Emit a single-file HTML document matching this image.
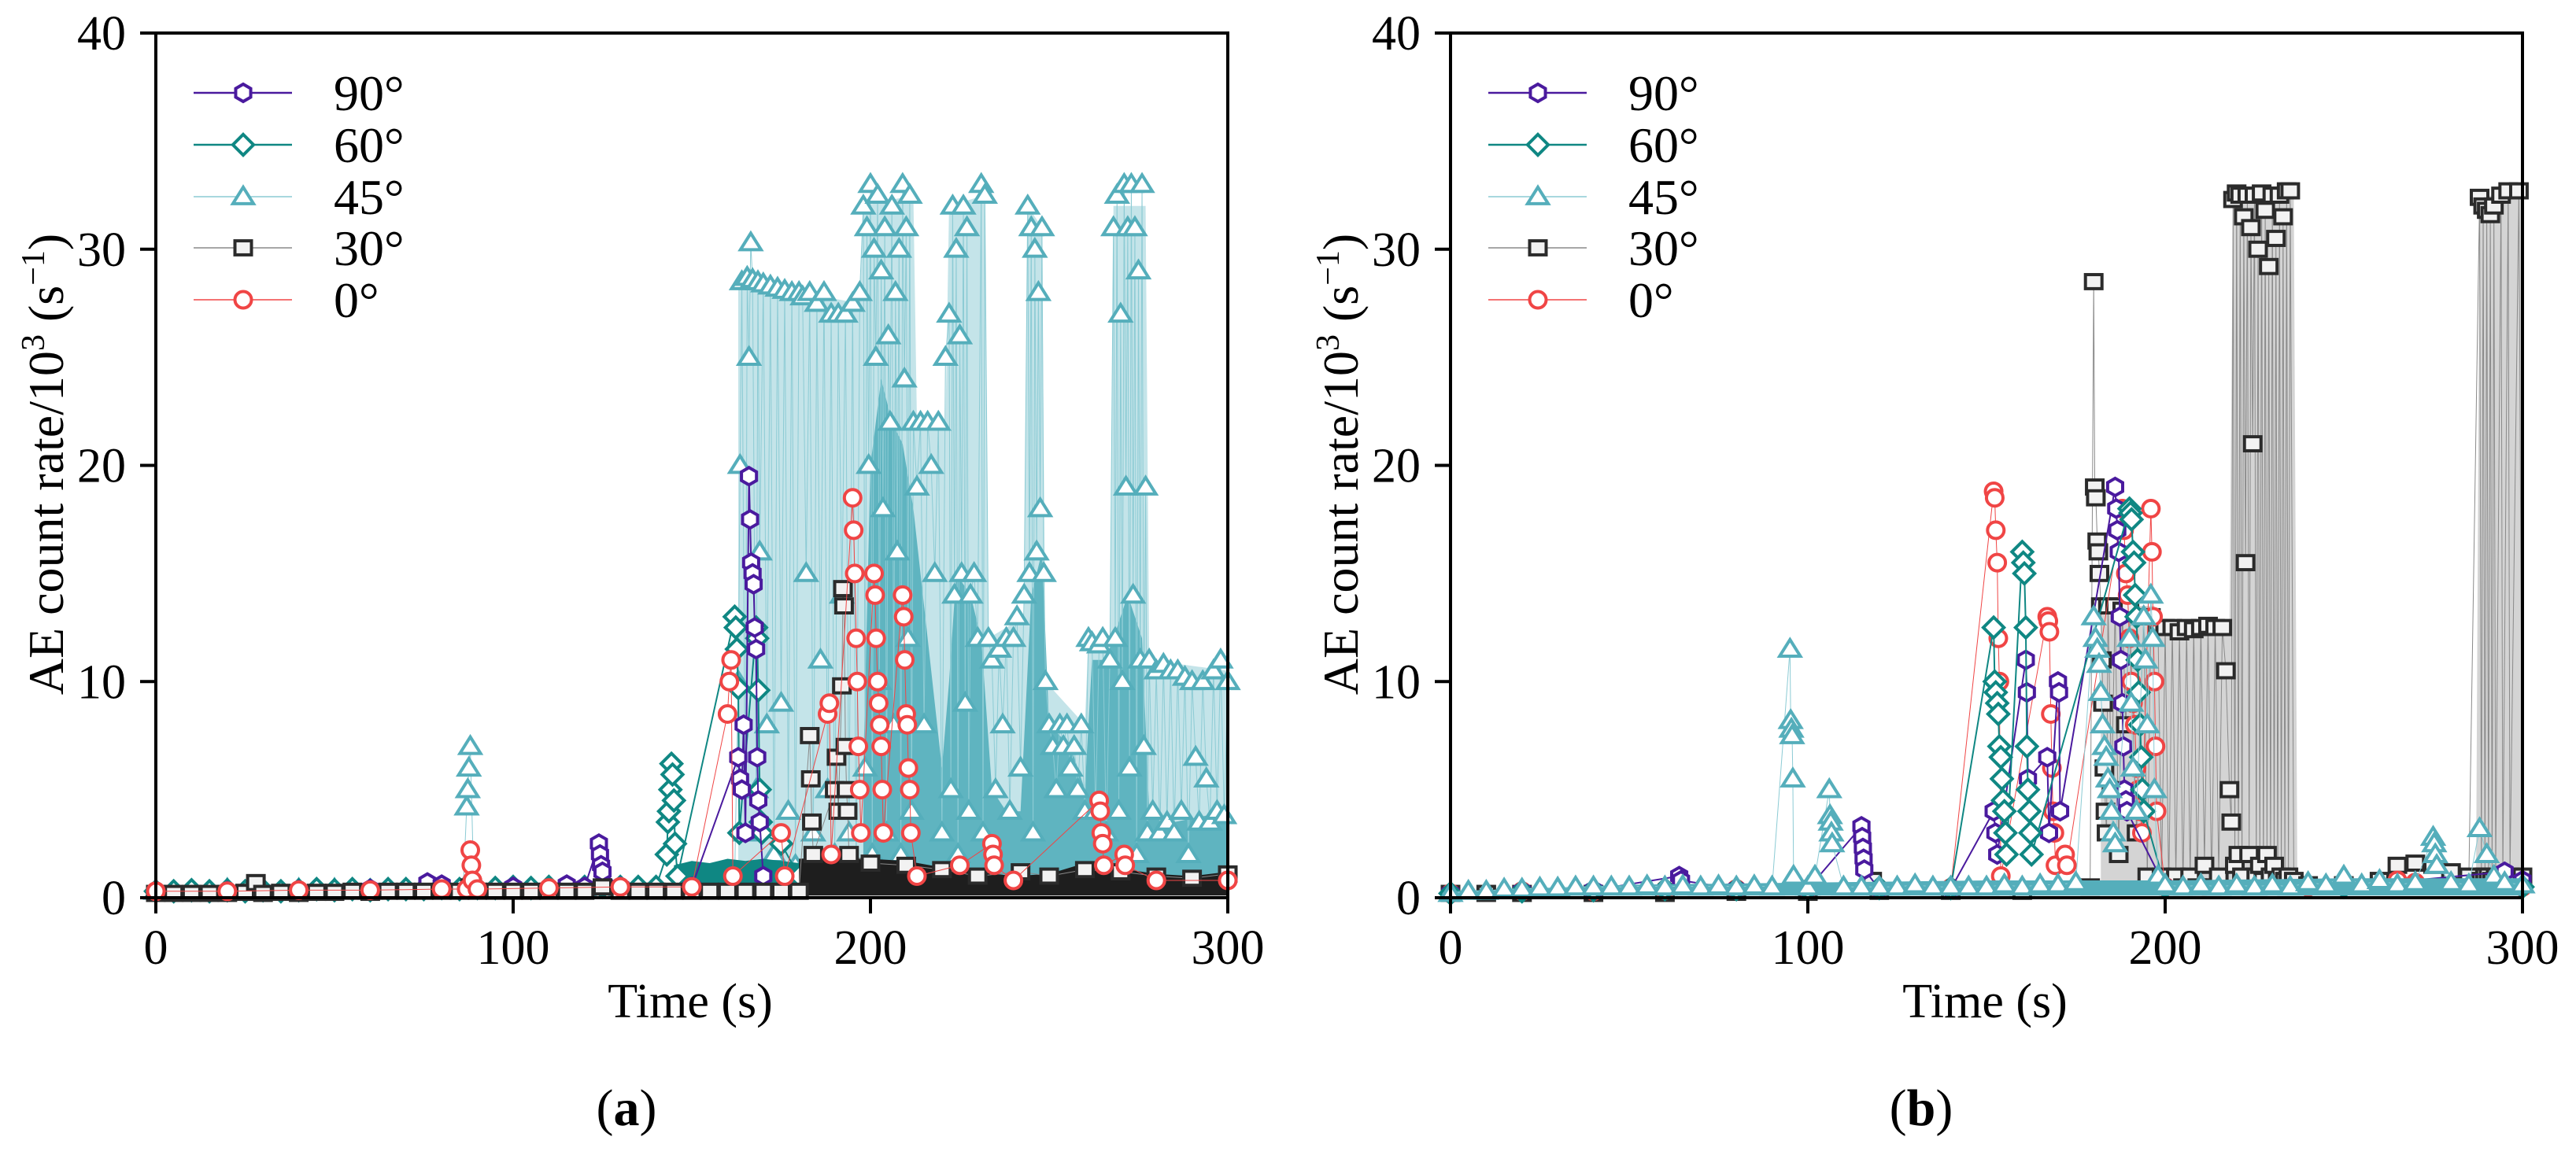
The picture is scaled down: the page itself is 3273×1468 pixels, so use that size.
<!DOCTYPE html>
<html><head><meta charset="utf-8">
<style>
html,body{margin:0;padding:0;background:#fff;}
svg{display:block;font-family:"Liberation Serif",serif;}
</style></head>
<body>
<svg id="fig" width="3273" height="1468" viewBox="0 0 3273 1468" xmlns="http://www.w3.org/2000/svg"></svg>
<script>
// ---------- data ----------
const xTicks=[0,100,200,300];
const yTicks=[0,10,20,30,40];
const legendLabels=["90°","60°","45°","30°","0°"];
const panelLabels=["a","b"];

// Panel (a)
const a90=[[0,.3],[20,.3],[40,.35],[60,.4],[76,.7],[80,.6],[100,.5],[115,.6],[120,.5],[124,2.5],[124.3,2],[124.6,1.5],[125,1.2],[130,.5],[150,.5],[163,6.5],[163.5,5.5],[164,5],[164.5,8],[165,3],[166,19.5],[166.3,17.5],[166.6,15.5],[167,15],[167.3,14.5],[167.6,12.5],[168,11.5],[168.3,6.5],[168.6,4.5],[169,3.5],[170,1]];
const a60=[[0,.3],[5,.3],[10,.35],[15,.3],[20,.35],[25,.3],[30,.35],[35,.3],[40,.35],[45,.4],[50,.35],[55,.4],[60,.35],[65,.4],[70,.4],[75,.4],[80,.45],[85,.4],[90,.45],[95,.45],[100,.5],[105,.45],[110,.5],[115,.5],[120,.5],[125,.5],[130,.5],[135,.5],[140,.5],[143,2],[143.3,3.5],[143.6,4],[144,5],[144.3,6.2],[144.6,5.7],[145,4.5],[145.3,2.5],[146,1],[162,13],[162.3,12.5],[162.6,11.5],[163,9.7],[163.3,3],[168,12.5],[168.3,12],[168.6,9.6],[169,5],[169.3,3.5],[169.6,3],[175,2.5],[180,1]];
const a60band=[[145,1.5],[150,1.7],[155,1.6],[160,1.8],[165,1.7],[170,1.8],[175,1.7],[180,1.6]];
const a45=[[0,.3],[10,.3],[20,.4],[30,.3],[40,.4],[50,.4],[60,.3],[70,.4],[80,.4],[86,.4],[87,4.2],[87.3,5],[87.6,6],[88,7],[89,.5],[100,.4],[110,.5],[120,.4],[130,.4],[140,.5],[150,.5],[160,.6],[162,1],[163,10],[163.5,20],[164,28.5],[165,3],[165.5,28.7],[166,25],[166.5,30.3],[167,28.6],[168,5],[168.5,28.5],[169,16],[170,28.4],[171,8],[172,28.3],[173,2],[174,28.2],[175,9],[176,28.1],[177,4],[178,28],[179,1.5],[180,28],[181,27.8],[182,15],[183,28],[184,3],[185,27.5],[186,11],[187,28],[188,5],[189,27],[190,2],[191,27],[192,14],[193,27],[194,3],[195,27.5],[196,1],[197,28],[198,32],[198.5,6],[199,31],[199.5,20],[200,33],[200.5,2],[201,30],[201.5,25],[202,32.5],[202.5,10],[203,29],[203.5,18],[204,31],[204.5,3],[205,26],[205.5,22],[206,32],[206.5,8],[207,28],[207.5,16],[208,30],[208.5,2],[209,33],[209.5,24],[210,31],[210.5,12],[211,32.5],[211.5,4],[212,22],[213,19],[214,22],[215,8],[216,22],[217,20],[218,15],[219,22],[220,3],[221,25],[222,27],[222.5,5],[223,32],[223.5,14],[224,30],[224.5,2],[225,26],[225.5,15],[226,32],[226.5,9],[227,31],[227.5,4],[228,14],[229,15],[230,12],[231,33],[231.5,3],[232,32.5],[233,12],[234,11],[235,5],[236,11.5],[237,8],[238,12],[239,4],[240,12],[241,13],[242,6],[243,14],[244,32],[244.5,15],[245,31],[245.5,3],[246,30],[246.5,16],[247,28],[247.5,18],[248,31],[248.5,15],[249,10],[250,8],[251,7],[252,5],[253,8],[254,7],[255,8],[256,6],[257,7],[258,5],[259,8],[260,4],[261,12],[262,11.8],[263,4],[264,11.7],[265,12],[266,3],[267,11],[268,31],[268.5,12],[269,32.5],[269.5,4],[270,27],[270.5,10],[271,33],[271.5,19],[272,31],[272.5,6],[273,33],[273.5,14],[274,31],[274.5,2],[275,29],[275.5,11],[276,33],[276.5,7],[277,19],[277.5,3],[278,11],[279,4],[280,10.5],[281,3],[282,10.8],[283,3.5],[284,10.5],[285,3],[286,10.5],[287,4],[288,10.2],[289,2],[290,10],[291,6.5],[292,3.5],[293,10],[294,5.5],[295,3.5],[296,10.5],[297,4],[298,11],[299,3.8],[300,10]];
// envelope of the dense vertical connector lines (light) and dense marker mass (dark) for 45° in (a)
const a45lines=[[163,28.5],[180,28],[197,27.5],[198,32],[212,32.5],[213,22],[221,22],[222,32],[232,32.5],[233,12],[243,13],[244,32],[248,31],[249,10],[260,8],[261,12],[267,11.5],[268,32],[277,32],[278,11],[300,10.5]];
const a45mass=[[198,6],[200,20],[203,24],[206,22],[209,21],[212,18],[216,12],[220,6],[222,10],[224,15],[228,14],[231,12],[234,5],[238,4],[242,4],[245,14],[248,16],[250,8],[256,7],[260,5],[262,11],[266,11],[268,12],[272,14],[276,12],[278,4],[285,3.5],[300,4]];
const a30=[[0,.2],[5,.2],[10,.2],[15,.2],[20,.2],[25,.25],[28,.7],[30,.2],[35,.25],[40,.2],[45,.25],[50,.25],[55,.3],[60,.25],[65,.3],[70,.3],[75,.3],[80,.3],[85,.3],[88,.5],[90,.3],[95,.3],[100,.3],[105,.3],[110,.3],[115,.3],[120,.3],[125,.5],[130,.3],[135,.3],[140,.3],[145,.3],[150,.3],[155,.3],[160,.3],[165,.3],[170,.3],[175,.3],[180,.3],[183,7.5],[183.3,5.5],[183.6,3.5],[184,2],[190,5],[190.5,6.5],[191,4],[192,9.8],[192.3,14.3],[192.6,13.5],[193,7],[193.3,5],[193.6,4],[194,2],[200,1.6],[210,1.5],[220,1.3],[230,1],[242,1.2],[250,1],[260,1.3],[270,1.2],[280,1],[290,.9],[300,1.1]];
const a30band=[[180,1.8],[190,1.9],[200,1.8],[210,1.7],[220,1.4],[230,1.2],[240,1],[250,1.1],[258,1.5],[268,1.4],[280,1.1],[290,1],[300,1.2]];
const a30base=[[0,.45],[100,.5],[180,.5]];
const a0=[[0,.3],[20,.3],[40,.35],[60,.35],[80,.4],[87,.4],[88,2.2],[88.3,1.5],[88.6,.8],[90,.4],[110,.45],[130,.5],[150,.5],[160,8.5],[160.5,10],[161,11],[161.5,1],[175,3],[176,1],[188,8.5],[188.5,9],[189,2],[195,18.5],[195.3,17],[195.6,15],[196,12],[196.3,10],[196.6,7],[197,5],[197.3,3],[201,15],[201.3,14],[201.6,12],[202,10],[202.3,9],[202.6,8],[203,7],[203.3,5],[203.6,3],[209,14],[209.3,13],[209.6,11],[210,8.5],[210.3,8],[210.6,6],[211,5],[211.3,3],[213,1],[225,1.5],[234,2.5],[234.3,2],[234.6,1.5],[240,.8],[264,4.5],[264.3,4],[264.6,3],[265,2.5],[265.3,1.5],[271,2],[271.3,1.5],[280,.8],[300,.8]];

// Panel (b)
const b90=[[0,.2],[20,.3],[40,.35],[64,1],[64.5,.8],[80,.4],[100,.4],[115,3.3],[115.2,2.8],[115.4,2.3],[115.6,1.8],[115.8,1.3],[120,.4],[140,.4],[152,4],[152.5,3],[153,2],[161,11],[161.3,9.5],[161.6,5.5],[167,6.5],[167.5,3],[170,10],[170.3,9.5],[170.6,4],[186,19],[186.3,18],[186.6,17],[187,16],[187.3,13],[187.6,11],[188,9],[188.3,7],[188.6,5],[189,4.5],[189.3,4],[200,.5],[250,.5],[295,1.2],[300,.8]];
const b60=[[0,.2],[20,.3],[40,.35],[60,.4],[80,.4],[100,.4],[120,.45],[140,.45],[152,12.5],[152.3,10],[152.6,9.5],[153,9],[153.3,8.5],[153.6,7],[154,6.5],[154.3,5.5],[154.6,4.5],[155,4],[155.3,3],[155.6,2],[160,16],[160.3,15.5],[160.6,15],[161,12.5],[161.3,7],[161.6,5],[162,4],[162.3,3],[162.6,2],[190,18],[190.3,17.8],[190.6,17.5],[191,16],[191.3,15.5],[191.6,14],[192,13],[192.3,11],[192.6,9.5],[193,8],[193.3,6.5],[193.6,5],[194,4],[200,.5],[250,.5],[300,.5]];
const b45=[[0,.2],[5,.3],[10,.3],[15,.4],[20,.4],[25,.45],[30,.45],[35,.5],[40,.5],[45,.5],[50,.5],[55,.55],[60,.5],[65,.55],[70,.5],[75,.55],[80,.5],[85,.55],[90,.5],[95,11.5],[95.2,8.2],[95.4,7.8],[95.6,7.5],[95.8,5.5],[96,1],[100,.5],[102,1],[106,5],[106.2,3.8],[106.4,3.5],[106.6,3],[106.8,2.5],[110,.5],[115,.5],[120,.5],[125,.5],[130,.6],[135,.5],[140,.5],[145,.5],[150,.5],[155,.6],[160,.5],[165,.6],[170,.6],[175,.7],[180,13],[180.5,12],[181,11.5],[181.5,10.8],[182,9.5],[182.5,8],[183,7],[183.5,6.5],[184,5.5],[184.5,5],[185,4],[185.5,3],[186,2.5],[190,12],[190.5,9],[191,6],[192,4],[194,13],[194.5,11],[195,8],[196,14],[196.5,12],[197,5],[198,1],[200,.6],[205,.5],[210,.6],[215,.5],[220,.6],[225,.5],[230,.6],[235,.5],[240,.7],[245,.6],[250,1],[255,.6],[260,.8],[265,.6],[270,.7],[275,2.8],[275.3,2.5],[275.6,2],[276,1.5],[280,.7],[285,.6],[288,3.2],[290,2],[292,1],[295,.7],[300,.6]];
const b45band=[[0,.3],[50,.6],[100,.7],[150,.8],[200,.8],[250,.9],[300,.9]];
const b30lines=[[182,13.5],[197,13.5],[198,12.5],[218,12.5],[219,32.5],[236,32.5],[237,.5],[287,.5],[288,32.4],[300,32.7]];
const b30=[[0,.2],[10,.2],[20,.2],[40,.2],[60,.2],[80,.25],[100,.25],[118,.8],[120,.3],[140,.3],[160,.3],[179,.5],[180,28.5],[180.3,19],[180.6,18.5],[181,16.5],[181.3,16],[181.6,15],[182,13.5],[182.3,11],[182.6,9],[183,6],[183.3,4],[183.6,3],[184,13.5],[185,5],[186,13.5],[187,2],[188,13.3],[189,8],[190,13.5],[192,3],[194,13],[195,1],[196,13],[198,12.5],[199,1],[200,12.5],[201,.5],[202,12.5],[203,1],[204,12.3],[205,.5],[206,12.5],[207,1],[208,12.4],[209,.5],[210,12.5],[211,1.5],[212,12.6],[213,.5],[214,12.5],[215,1],[216,12.5],[217,10.5],[218,5],[218.5,3.5],[219,32.3],[219.5,1.5],[220,32.6],[220.5,2],[221,32.5],[221.5,1],[222,31.5],[222.5,15.5],[223,32.5],[223.5,2],[224,31],[224.5,21],[225,32.5],[225.5,1],[226,30],[226.5,1.5],[227,32.6],[227.5,.8],[228,31.8],[228.5,2],[229,29.2],[229.5,1],[230,32.5],[230.5,1.5],[231,30.5],[231.5,.8],[232,32.5],[232.5,1],[233,31.5],[233.5,.8],[234,32.7],[234.5,1],[235,32.7],[236,.8],[240,.6],[250,.6],[260,.8],[265,1.5],[270,1.6],[275,1.5],[280,1.2],[285,1],[288,32.4],[288.5,.8],[289,32],[289.5,1],[290,31.8],[290.5,1],[291,31.6],[291.5,.8],[292,32],[292.5,1],[294,32.5],[294.5,.8],[296,32.7],[296.5,1],[299,32.7],[300,1]];
const b0=[[0,.2],[20,.3],[40,.3],[60,.35],[80,.4],[100,.4],[120,.4],[140,.45],[152,18.8],[152.3,18.5],[152.6,17],[153,15.5],[153.3,12],[153.6,10],[154,1],[167,13],[167.3,12.8],[167.6,12.3],[168,8.5],[168.3,6],[168.6,4],[169,3],[169.3,1.5],[172,2],[172.5,1.5],[188,18],[188.5,17],[189,15],[189.5,14],[190,12],[190.5,10],[191,9],[191.5,8],[192,6],[192.5,5],[193,4],[193.5,3],[196,18],[196.3,16],[196.6,13],[197,10],[197.3,7],[197.6,4],[200,.5],[240,.5],[265,.8],[270,.7],[300,.5]];

// ---------- drawing ----------
const NS="http://www.w3.org/2000/svg";
const svg=document.getElementById("fig");
const W=1362,H=1099,TOP=42,BOT=1141;
const panels=[{L:198},{L:1843}];
function mk(tag,attrs,parent){const e=document.createElementNS(NS,tag);for(const k in attrs)e.setAttribute(k,attrs[k]);(parent||svg).appendChild(e);return e;}
function xs(L,t){return L+t/300*W;}
function ys(v){return BOT-v/40*H;}

const styles={
 "90":{c:"#4a1a9e",lc:"#4a1a9e",lw:2,shape:"hex"},
 "60":{c:"#0f8783",lc:"#0f8783",lw:2,shape:"dia"},
 "45":{c:"#55aebb",lc:"#8ccbd4",lw:1,shape:"tri"},
 "30":{c:"#2b2b2b",lc:"#8a8a8a",lw:1,shape:"sq"},
 "0":{c:"#f04545",lc:"#f04545",lw:1,shape:"cir"}
};
function marker(g,shape,x,y,color){
 const r=10.5,sw=4;let e;
 if(shape==="cir") e=mk("circle",{cx:x,cy:y,r:r,fill:"#fff",stroke:color,"stroke-width":sw},g);
 else if(shape==="sq") e=mk("rect",{x:x-r,y:y-r*0.85,width:2*r,height:1.7*r,fill:"#f2f2f2",stroke:color,"stroke-width":sw},g);
 else if(shape==="tri") e=mk("polygon",{points:`${x},${y-r*1.15} ${x+r*1.25},${y+r*0.85} ${x-r*1.25},${y+r*0.85}`,fill:"#fff",stroke:color,"stroke-width":sw},g);
 else if(shape==="dia") e=mk("polygon",{points:`${x},${y-r*1.25} ${x+r*1.25},${y} ${x},${y+r*1.25} ${x-r*1.25},${y}`,fill:"#fff",stroke:color,"stroke-width":sw},g);
 else {let p=[];for(let i=0;i<6;i++){const a=Math.PI/3*i+Math.PI/6;p.push((x+r*1.05*Math.cos(a))+","+(y+r*1.05*Math.sin(a)));}
   e=mk("polygon",{points:p.join(" "),fill:"#fff",stroke:color,"stroke-width":sw},g);}
 return e;
}
function band(L,data,color,name,floor){
 const f=(floor===undefined)?0.1:floor;
 let pts=data.map(d=>xs(L,d[0])+","+ys(d[1]));
 pts.push(xs(L,data[data.length-1][0])+","+ys(f));
 pts.push(xs(L,data[0][0])+","+ys(f));
 const e=mk("polygon",{points:pts.join(" "),fill:color});
 
 
}
function series(L,data,key,name){
 const s=styles[key];
 const g=mk("g",{});
 
 
 mk("polyline",{points:data.map(d=>xs(L,d[0])+","+ys(d[1])).join(" "),fill:"none",stroke:s.lc,"stroke-width":s.lw},g);
 data.forEach(d=>{const m=marker(g,s.shape,xs(L,d[0]),ys(d[1]),s.c);
   
   });
}

function axes(L,pi){
 const g=mk("g",{});
 
 
 mk("rect",{x:L,y:TOP,width:W,height:BOT-TOP,fill:"none",stroke:"#000","stroke-width":4},g);
 xTicks.forEach(t=>{const x=xs(L,t);
  mk("line",{x1:x,y1:BOT,x2:x,y2:BOT+20,stroke:"#000","stroke-width":4},g);
  const tx=mk("text",{x:x,y:1225,"font-size":62,"text-anchor":"middle"},g);tx.textContent=t;
  
  });
 yTicks.forEach(v=>{const y=ys(v);
  mk("line",{x1:L-20,y1:y,x2:L,y2:y,stroke:"#000","stroke-width":4},g);
  const tx=mk("text",{x:L-38,y:y+21,"font-size":62,"text-anchor":"end"},g);tx.textContent=v;
  
  });
 const xt=mk("text",{x:L+679,y:1293,"font-size":62,"text-anchor":"middle"},g);xt.textContent="Time (s)";
 
 
 const yt=mk("text",{x:0,y:0,"font-size":64,"text-anchor":"middle",transform:`translate(${L-118},590) rotate(-90)`},g);
 yt.innerHTML='AE count rate/10<tspan dy="-24" font-size="42">3</tspan><tspan dy="24"> (s</tspan><tspan dy="-24" font-size="42">−1</tspan><tspan dy="24">)</tspan>';
 
 
 const pl=mk("text",{x:L+598,y:1430,"font-size":66,"text-anchor":"middle"},g);
 pl.innerHTML='(<tspan font-weight="bold">'+panelLabels[pi]+'</tspan>)';
 
 
 // legend
 const keys=["90","60","45","30","0"];
 const ly=[118,184,250,315,381];
 keys.forEach((k,i)=>{const s=styles[k];
  const lg=mk("g",{});
  
  
  mk("line",{x1:L+48,y1:ly[i],x2:L+173,y2:ly[i],stroke:s.lc,"stroke-width":s.lw+0.5},lg);
  marker(lg,s.shape,L+111,ly[i],s.c);
  const t=mk("text",{x:L+226,y:ly[i]+22,"font-size":64},lg);t.textContent=legendLabels[i];});
}

// panel a
(function(){const L=panels[0].L;
 band(L,a45lines,"#c4e4e9","lines-45deg-a",0.5);
 band(L,a45mass,"#5fb4c0","mass-45deg-a",0.5);
 series(L,a45,"45","series-45deg-a");
 band(L,a60band,"#0f8783","band-60deg-a");
 series(L,a60,"60","series-60deg-a");
 series(L,a90,"90","series-90deg-a");
 band(L,a30base,"#1e1e1e","baseline-30deg-a");
 band(L,a30band,"#1e1e1e","band-30deg-a");
 series(L,a30,"30","series-30deg-a");
 series(L,a0,"0","series-0deg-a");
 axes(L,0);
})();
// panel b
(function(){const L=panels[1].L;
 band(L,b30lines,"#d4d4d4","lines-30deg-b",0.5);
 series(L,b30,"30","series-30deg-b");
 series(L,b0,"0","series-0deg-b");
 series(L,b90,"90","series-90deg-b");
 series(L,b60,"60","series-60deg-b");
 band(L,b45band,"#55aebb","band-45deg-b");
 series(L,b45,"45","series-45deg-b");
 axes(L,1);
})();
</script>
</body></html>
